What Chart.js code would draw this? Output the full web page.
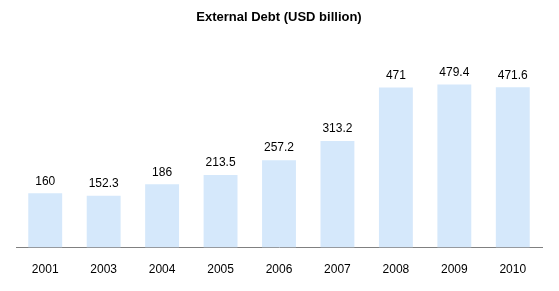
<!DOCTYPE html>
<html>
<head>
<meta charset="utf-8">
<script src="https://cdn.jsdelivr.net/npm/chart.js@4"></script>
<style>
  html, body { margin: 0; padding: 0; background: #fff; }
  #wrap { width: 559px; height: 291px; }
</style>
</head>
<body>
<div id="wrap"><canvas id="debtChart" width="559" height="291"></canvas></div>
<script>
const years = ['2001', '2003', '2004', '2005', '2006', '2007', '2008', '2009', '2010'];
const debt = [160, 152.3, 186, 213.5, 257.2, 313.2, 471, 479.4, 471.6];
const valueLabels = ['160', '152.3', '186', '213.5', '257.2', '313.2', '471', '479.4', '471.6'];

// draws the number above each bar
const barValues = {
    id: 'barValues',
    afterDatasetsDraw(chart) {
        const ctx = chart.ctx;
        const meta = chart.getDatasetMeta(0);
        ctx.save();
        ctx.font = '12px "Liberation Sans", Arial, sans-serif';
        ctx.fillStyle = '#000';
        ctx.textAlign = 'center';
        ctx.textBaseline = 'middle';
        meta.data.forEach((bar, i) => {
            ctx.fillText(valueLabels[i], bar.x, bar.y - 12);
        });
        ctx.restore();
    }
};

new Chart(document.getElementById('debtChart'), {
    type: 'bar',
    data: {
        labels: years,
        datasets: [{
            data: debt,
            backgroundColor: '#d5e8fb',
            borderWidth: 0,
            categoryPercentage: 1,
            barPercentage: 0.58
        }]
    },
    options: {
        responsive: false,
        animation: false,
        layout: { padding: { left: 16, right: 17, top: 0, bottom: 7 } },
        plugins: {
            legend: { display: false },
            tooltip: { enabled: false },
            title: {
                display: true,
                text: 'External Debt (USD billion)',
                color: '#000',
                font: { family: '"Liberation Sans", Arial, sans-serif', size: 13, weight: 'bold' },
                padding: { top: 10, bottom: 18 }
            }
        },
        scales: {
            x: {
                grid: { display: false },
                border: { color: '#808080', width: 1 },
                ticks: {
                    color: '#000',
                    padding: 7,
                    font: { family: '"Liberation Sans", Arial, sans-serif', size: 12 }
                }
            },
            y: {
                display: false,
                min: 0,
                max: 600
            }
        }
    },
    plugins: [barValues]
});
</script>
</body>
</html>
